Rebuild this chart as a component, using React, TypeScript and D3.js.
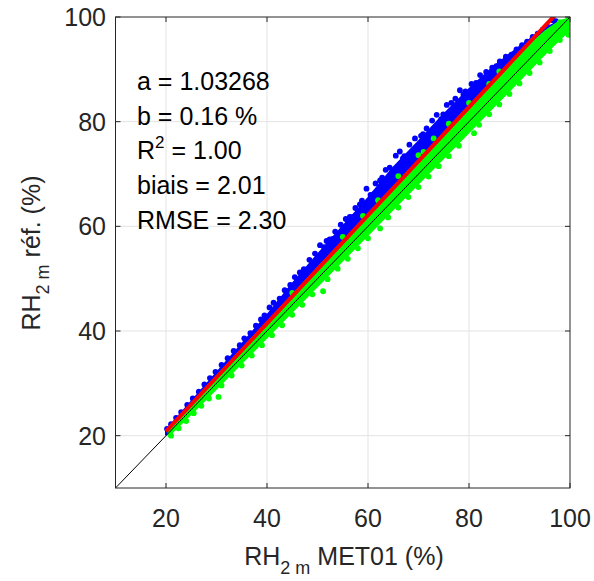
import React from "react";
import * as d3 from "d3";

const W = 594;
const H = 581;

const ticks = [20, 40, 60, 80, 100];
const gridVals = [20, 40, 60, 80];

const fitA = 1.03268;
const fitB = 0.16;
const fitRange = [20, 97.5];

const annotations = ["a = 1.03268", "b = 0.16 %", "R2", "biais = 2.01", "RMSE = 2.30"];

// Blue series: dense core band (x, lower y, upper y)
const blueBandX = [20, 25, 30, 35, 40, 45, 50, 55, 60, 65, 70, 75, 80, 85, 90, 95, 97];
const blueBandLo = [20.2, 25.0, 30.0, 35.0, 40.0, 45.0, 50.0, 55.0, 60.0, 65.0, 70.0, 75.0, 80.0, 85.0, 90.0, 95.0, 97.0];
const blueBandHi = [21.0, 26.5, 32.0, 37.5, 43.0, 49.0, 54.6, 60.0, 65.4, 71.2, 76.2, 81.4, 86.2, 90.6, 94.3, 97.8, 98.8];

// Blue scattered points on the upper side
const blueX = [20.2, 21, 22, 23, 24.2, 25.3, 26.5, 27.6, 28.7, 29.8, 31, 32.2, 33.4, 34.6, 35.5, 36.7, 37.8, 38.8, 39.5, 40.5, 41.3, 42.5, 43.5, 44.6, 45.5, 46.5, 47.3, 48.4, 49.5, 50.5, 51.3, 52.4, 53.5, 54.6, 55.3, 56.4, 57.5, 58.4, 59.7, 60.5, 61.5, 62.4, 63.5, 64.3, 65.5, 66.3, 67.2, 68.2, 69.3, 70.5, 71.6, 72.7, 73.6, 74.5, 75.6, 76.5, 77.3, 78.2, 79.3, 80.5, 81.4, 82.2, 83.4, 84.6, 85.4, 86.1, 87.3, 88.4, 89.4, 90.5, 91.5, 92.6, 93.6, 94.6, 95.5, 96.6, 97.2, 64.8, 68.8, 72.2, 76.8, 79.8, 61.2, 57, 53, 48.9, 44.2, 83.3, 87.8, 58.8, 62.8, 66.9, 70.9, 74.9, 78.9, 55.6, 51.8];
const blueY = [21.3, 22.2, 23.4, 24.5, 25.9, 27.1, 28.4, 29.8, 31.0, 32.2, 33.5, 34.8, 36.2, 37.3, 38.6, 39.6, 41.0, 42.2, 43.0, 44.5, 45.4, 46.2, 47.8, 48.8, 50.3, 51.2, 51.8, 53.6, 54.8, 56.4, 56.0, 57.5, 59.0, 60.3, 59.8, 61.8, 63.5, 64.2, 67.2, 66.0, 68.2, 68.8, 70.8, 71.2, 73.5, 74.3, 73.4, 75.6, 76.8, 77.3, 78.7, 80.2, 81.3, 80.5, 83.2, 83.6, 84.4, 86.0, 85.8, 87.2, 87.4, 88.9, 89.5, 90.3, 90.6, 91.5, 92.4, 92.8, 93.8, 94.6, 95.3, 96.2, 96.8, 97.6, 98.2, 99.4, 99.2, 70.1, 73.8, 77.8, 82.2, 85.0, 66.2, 61.8, 57.6, 52.8, 47.6, 88.2, 91.6, 64.9, 69.3, 73.0, 77.6, 81.4, 85.2, 61.4, 57.2];

// Green series: dense core band
const greenBandX = [20.5, 25, 30, 35, 40, 45, 50, 55, 60, 65, 70, 75, 80, 85, 90, 95, 98, 100];
const greenBandLo = [20.0, 24.2, 29.0, 33.9, 38.8, 43.7, 48.6, 53.5, 58.4, 63.3, 68.2, 73.1, 78.0, 83.0, 87.9, 92.9, 95.8, 97.6];
const greenBandHi = [21.2, 26.1, 31.3, 36.5, 41.6, 46.8, 52.0, 57.1, 62.3, 67.5, 72.6, 77.8, 83.0, 88.0, 93.0, 97.2, 99.2, 99.8];

// Green scattered points (mostly on the lower side)
const greenX = [21, 22.5, 24, 25.5, 27, 28.5, 30.4, 31, 33, 35, 37, 39, 41, 43, 45, 47, 49, 51.1, 52, 54, 56, 58, 60, 62.4, 64, 66, 68, 70, 72, 74, 76, 78, 81, 82, 84, 86, 88, 90, 92, 94, 96, 98, 99.7, 45, 55, 62, 66, 70, 73, 76, 80, 84, 88, 92, 95, 98, 99.8, 59, 71, 86];
const greenY = [20.0, 21.4, 22.8, 24.3, 25.7, 27.1, 27.4, 29.6, 31.5, 33.4, 35.3, 37.3, 39.2, 41.1, 43.1, 45.0, 47.0, 47.6, 49.9, 51.9, 53.8, 55.8, 57.7, 59.6, 61.7, 63.6, 65.6, 67.5, 69.5, 71.5, 73.4, 75.4, 77.8, 79.4, 81.4, 83.3, 85.3, 87.3, 89.3, 91.3, 93.5, 95.6, 96.6, 47.3, 58.0, 65.0, 69.6, 73.6, 76.8, 79.6, 83.6, 87.2, 90.6, 93.8, 96.6, 99.0, 99.6, 62.0, 74.2, 89.6];

const x = d3.scaleLinear().domain([10, 100]).range([115.5, 570]);
const y = d3.scaleLinear().domain([10, 100]).range([488, 17]);

const axisColor = "#262626";
const font = "'Liberation Sans', Arial, Helvetica, sans-serif";

function band(xs: number[], lo: number[], hi: number[]) {
  const pts = xs.map((v, i) => ({ x: v, lo: lo[i], hi: hi[i] }));
  return d3
    .area<{ x: number; lo: number; hi: number }>()
    .x((d) => x(d.x))
    .y0((d) => y(d.lo))
    .y1((d) => y(d.hi))(pts) as string;
}

export default function App() {
  const [x0, x1] = x.range();
  const [yb, yt] = y.range();
  const tickLen = 5;
  const fitLine = d3.line<number>().x((v) => x(v)).y((v) => y(fitA * v + fitB))(fitRange) as string;
  const lineBlack = d3.line<number>().x((v) => x(v)).y((v) => y(v))([10, 100]) as string;

  const r = 2.9;
  const blueColor = "#0000ff";
  const greenColor = "#00ff00";
  const fs = 25;

  return (
    <svg width={W} height={H} style={{ position: "absolute", left: 0, top: 0, background: "#fff" }} fontFamily={font}>
      <defs>
        <clipPath id="plotclip">
          <rect x={x0} y={yt} width={x1 - x0} height={yb - yt} />
        </clipPath>
      </defs>
      <rect x={0} y={0} width={W} height={H} fill="#fff" />
      {gridVals.map((v) => (
        <g key={"g" + v}>
          <line x1={x(v)} x2={x(v)} y1={yt} y2={yb} stroke="#e3e3e3" strokeWidth={1} />
          <line x1={x0} x2={x1} y1={y(v)} y2={y(v)} stroke="#e3e3e3" strokeWidth={1} />
        </g>
      ))}
      <g clipPath="url(#plotclip)">
        <path d={band(blueBandX, blueBandLo, blueBandHi)} fill={blueColor} stroke={blueColor} strokeWidth={2} strokeLinejoin="round" />
        {blueX.map((v, i) => (
          <circle key={"b" + i} cx={x(v)} cy={y(blueY[i])} r={r} fill={blueColor} />
        ))}
        <path d={band(greenBandX, greenBandLo, greenBandHi)} fill={greenColor} stroke={greenColor} strokeWidth={2} strokeLinejoin="round" />
        {greenX.map((v, i) => (
          <circle key={"gr" + i} cx={x(v)} cy={y(greenY[i])} r={r} fill={greenColor} />
        ))}
        <path d={lineBlack} stroke="#000" strokeWidth={1} fill="none" />
        <path d={fitLine} stroke="#ff0000" strokeWidth={4} fill="none" />
      </g>
      <rect x={x0} y={yt} width={x1 - x0} height={yb - yt} fill="none" stroke={axisColor} strokeWidth={1} />
      {ticks.map((v) => (
        <g key={"t" + v}>
          <line x1={x(v)} x2={x(v)} y1={yb} y2={yb - tickLen} stroke={axisColor} />
          <line x1={x(v)} x2={x(v)} y1={yt} y2={yt + tickLen} stroke={axisColor} />
          <line x1={x0} x2={x0 + tickLen} y1={y(v)} y2={y(v)} stroke={axisColor} />
          <line x1={x1} x2={x1 - tickLen} y1={y(v)} y2={y(v)} stroke={axisColor} />
          <text x={x(v)} y={527} textAnchor="middle" fontSize={fs} fill={axisColor}>
            {v}
          </text>
          <text x={106} y={y(v) + 9} textAnchor="end" fontSize={fs} fill={axisColor}>
            {v}
          </text>
        </g>
      ))}
      {annotations.map((t, i) => {
        const by = 90 + i * 34.7;
        if (t === "R2") {
          return (
            <text key={t} x={137} y={by} fontSize={fs} fill="#000">
              R
              <tspan dy={-11} fontSize={17}>2</tspan>
              <tspan dy={11}> = 1.00</tspan>
            </text>
          );
        }
        return (
          <text key={t} x={137} y={by} fontSize={fs} fill="#000">
            {t}
          </text>
        );
      })}
      <text x={344} y={565} textAnchor="middle" fontSize={fs} fill={axisColor}>
        RH
        <tspan dy={9} fontSize={18}>2 m</tspan>
        <tspan dy={-9}> MET01 (%)</tspan>
      </text>
      <text transform={`translate(40,253) rotate(-90)`} textAnchor="middle" fontSize={fs} fill={axisColor}>
        RH
        <tspan dy={9} fontSize={18}>2 m</tspan>
        <tspan dy={-9}> réf. (%)</tspan>
      </text>
    </svg>
  );
}
